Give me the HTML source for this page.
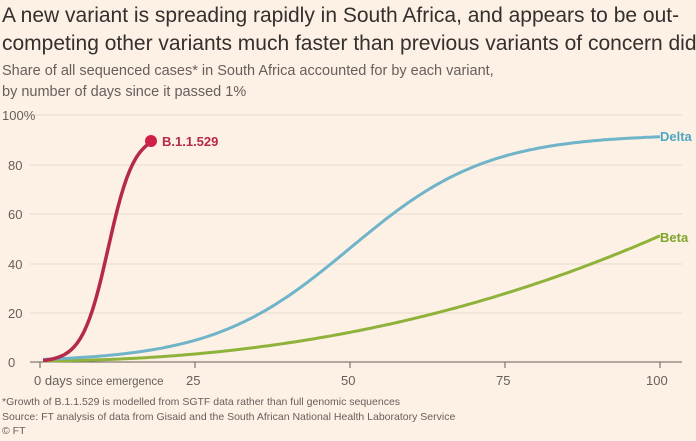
<!DOCTYPE html>
<html><head><meta charset="utf-8"><style>
body{margin:0;width:696px;height:436px;background:#fdf0e4;font-family:"Liberation Sans",sans-serif;overflow:hidden}
</style></head><body>
<svg width="696" height="436" xmlns="http://www.w3.org/2000/svg" id="s">
<rect width="696" height="436" fill="#fdf0e4"/>
<text x="2" y="22" font-size="21" fill="#33302e">A new variant is spreading rapidly in South Africa, and appears to be out-</text>
<text x="2" y="50" font-size="21" fill="#33302e">competing other variants much faster than previous variants of concern did</text>
<text x="2" y="75" font-size="14.5" fill="#66605c">Share of all sequenced cases* in South Africa accounted for by each variant,</text>
<text x="2" y="96" font-size="14.5" fill="#66605c">by number of days since it passed 1%</text>
<g stroke="#e6dbd0" stroke-width="1">
<line x1="30" x2="682" y1="115" y2="115"/><line x1="30" x2="682" y1="165" y2="165"/>
<line x1="30" x2="682" y1="214" y2="214"/><line x1="30" x2="682" y1="264" y2="264"/>
<line x1="30" x2="682" y1="313" y2="313"/></g>
<g font-size="13" fill="#66605c">
<text x="2" y="120">100%</text><text x="8" y="170">80</text><text x="8" y="219">60</text>
<text x="8" y="269">40</text><text x="8" y="318">20</text><text x="8" y="367">0</text>
<text x="34" y="385">0 days <tspan font-size="11.5">since emergence</tspan></text>
<text x="186" y="385">25</text><text x="341" y="385">50</text><text x="496" y="385">75</text><text x="646" y="385">100</text>
</g>
<line x1="30" x2="682" y1="362" y2="362" stroke="#66605c" stroke-width="1"/>
<g stroke="#66605c"><line x1="40" x2="40" y1="362" y2="368"/><line x1="195" x2="195" y1="362" y2="368"/><line x1="350" x2="350" y1="362" y2="368"/><line x1="505" x2="505" y1="362" y2="368"/><line x1="660" x2="660" y1="362" y2="368"/></g>
<path id="beta" fill="none" stroke="#8fb23a" stroke-width="3"/>
<path id="delta" fill="none" stroke="#6fb4c9" stroke-width="3"/>
<path id="om" fill="none" stroke="#b5294a" stroke-width="3.5"/>
<circle cx="151" cy="141" r="6" fill="#d01f45"/>
<text x="162" y="146" font-size="13" font-weight="bold" fill="#b5294a">B.1.1.529</text>
<text x="660" y="141" font-size="13" font-weight="bold" fill="#4fa6c2">Delta</text>
<text x="660" y="242" font-size="13" font-weight="bold" fill="#7fa52a">Beta</text>
<g font-size="10.5" fill="#66605c">
<text x="2" y="405">*Growth of B.1.1.529 is modelled from SGTF data rather than full genomic sequences</text>
<text x="2" y="420">Source: FT analysis of data from Gisaid and the South African National Health Laboratory Service</text>
<text x="2" y="434">© FT</text></g>
</svg>
<script>
function X(t){return 40+t*6.2}function Y(v){return 362-v*2.475}
function mk(id,f,a,b){var d="";for(var t=a;t<=b+1e-9;t+=0.5){d+=(d?"L":"M")+X(t).toFixed(1)+","+Y(f(t)).toFixed(1);}document.getElementById(id).setAttribute("d",d);}
mk("delta",function(t){return 92/(1+Math.exp(-0.09*(t-50)))},0.5,100);
mk("beta",function(t){return 0.5+0.00415*t*t+0.000009*t*t*t},0.5,100);
mk("om",function(t){return 92/(1+Math.exp(-0.48*(t-11)))},0.5,17.9);
</script>
</body></html>
